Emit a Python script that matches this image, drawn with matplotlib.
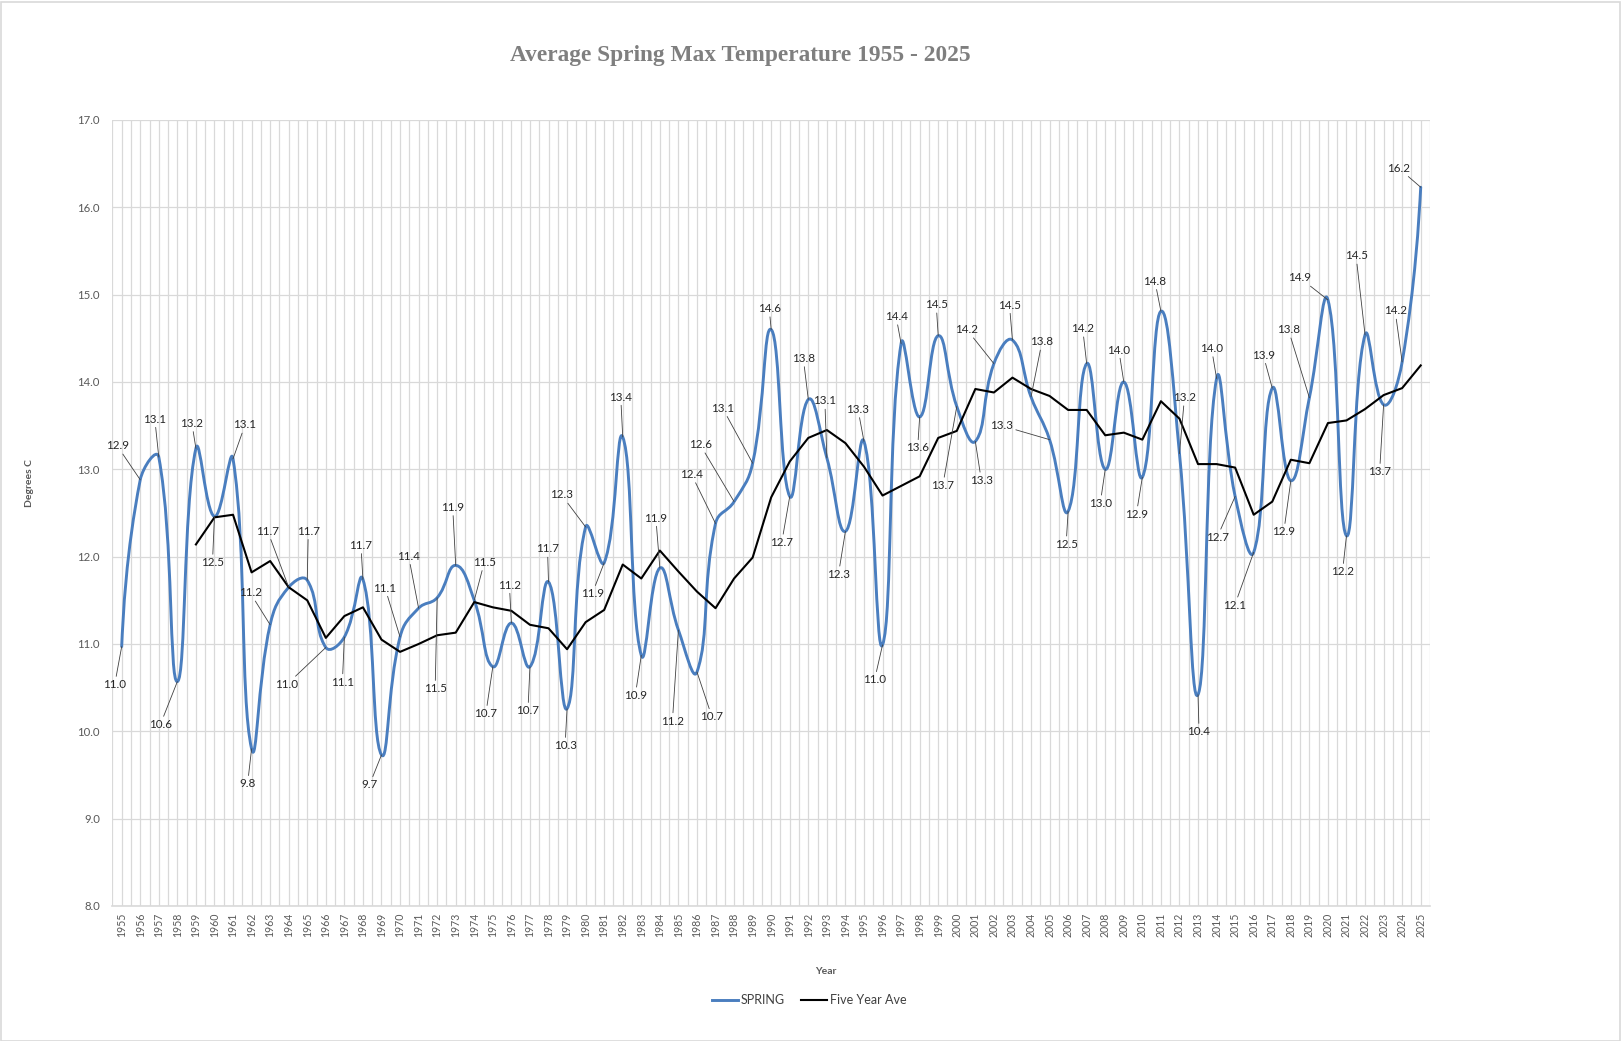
import numpy as np
import matplotlib
matplotlib.use("Agg")
import matplotlib.pyplot as plt
from matplotlib.path import Path
from matplotlib.patches import PathPatch, Rectangle
from matplotlib.lines import Line2D

plt.rcParams['font.family'] = ['Lato', 'DejaVu Sans']

years = list(range(1955, 2026))

spring = [10.97, 12.88, 13.14, 10.57, 13.24, 12.46, 13.12, 9.80, 11.22, 11.65,
          11.73, 10.96, 11.08, 11.74, 9.73, 11.08, 11.41, 11.53, 11.90, 11.50,
          10.74, 11.24, 10.74, 11.71, 10.26, 12.34, 11.93, 13.37, 10.87, 11.87,
          11.16, 10.68, 12.38, 12.63, 13.07, 14.60, 12.69, 13.80, 13.13, 12.29,
          13.32, 10.99, 14.44, 13.60, 14.53, 13.72, 13.32, 14.21, 14.48, 13.83,
          13.34, 12.52, 14.21, 13.00, 14.00, 12.91, 14.81, 13.18, 10.42, 14.04,
          12.69, 12.05, 13.93, 12.87, 13.82, 14.94, 12.24, 14.54, 13.74, 14.23,
          16.23]

# five year average starts in 1959
five_year_start = 1959
five_year = [12.14, 12.45, 12.48, 11.82, 11.95, 11.65, 11.50, 11.07, 11.32, 11.42,
             11.05, 10.91, 11.00, 11.10, 11.13, 11.48, 11.42, 11.38, 11.22, 11.18,
             10.94, 11.25, 11.39, 11.91, 11.75, 12.07, 11.83, 11.60, 11.41, 11.75,
             11.99, 12.68, 13.09, 13.36, 13.45, 13.30, 13.03, 12.70, 12.81, 12.92,
             13.36, 13.44, 13.92, 13.88, 14.05, 13.92, 13.84, 13.68, 13.68, 13.39,
             13.42, 13.34, 13.78, 13.58, 13.06, 13.06, 13.02, 12.48, 12.63, 13.11,
             13.07, 13.53, 13.56, 13.69, 13.85, 13.93, 14.19]

# data label offsets in pixels (dx, dy) from each point
label_offsets = [
    (-7, -38), (-23, 34), (-4, 38), (-17, -43), (-4, 25), (-2, -46), (12, 34),
    (-4, -35), (-20, 32), (-21, 56), (1, 49), (-39, -37), (-2, -45), (-2, 34),
    (-12, -30), (-15, 49), (-10, 52), (-2, -91), (-3, 58), (10, 38), (-7, -47),
    (-2, 38), (-2, -44), (-1, 33), (-2, -37), (-24, 32), (-12, -31), (-2, 40),
    (-6, -40), (-4, 50), (-6, -91), (15, -45), (-24, 49), (-34, 57), (-30, 55),
    (-2, 21), (-8, -46), (-5, 41), (-2, 57), (-7, -43), (-6, 32), (-8, -35),
    (-5, 27), (-2, -31), (-2, 31), (-14, -79), (6, -39), (-27, 34), (-3, 35),
    (11, 55), (-48, 14), (-2, -33), (-4, 35), (-5, -34), (-5, 32), (-6, -37),
    (-6, 30), (5, 56), (1, -37), (-5, 30), (-18, -41), (-19, -53), (-9, 33),
    (-7, -51), (-21, 68), (-28, 22), (-4, -36), (-9, 79), (-4, -67), (-7, 51),
    (-22, 19)]

W, H = 1621, 1041
px_per_year = (1430 - 112.4) / len(years)
px_per_deg = (906 - 120) / 9.0


def smooth_path(xs, ys, tension=0.45):
    # Excel-like smoothed line: bezier handles scaled by neighbouring segment lengths
    pts = np.column_stack([xs, ys]).astype(float)
    scale = np.array([px_per_year, px_per_deg])
    n = len(pts)
    before = pts.copy()
    after = pts.copy()
    for i in range(1, n - 1):
        d0 = np.hypot(*((pts[i] - pts[i - 1]) * scale))
        d1 = np.hypot(*((pts[i + 1] - pts[i]) * scale))
        tang = pts[i + 1] - pts[i - 1]
        before[i] = pts[i] - tension * d0 / (d0 + d1) * tang
        after[i] = pts[i] + tension * d1 / (d0 + d1) * tang
    after[0] = pts[0] + (before[1] - pts[0]) / 3.0
    before[-1] = pts[-1] + (after[-2] - pts[-1]) / 3.0
    verts = [pts[0]]
    codes = [Path.MOVETO]
    for i in range(n - 1):
        verts += [after[i], before[i + 1], pts[i + 1]]
        codes += [Path.CURVE4] * 3
    return Path(verts, codes)


fig = plt.figure(figsize=(W / 100, H / 100), dpi=100)
ax = fig.add_axes([112.4 / W, 1 - 906 / H, (1430 - 112.4) / W, (906 - 120) / H])

x = np.arange(len(years))
x5 = np.arange(five_year_start - years[0], len(years))

blue = '#4a7ebf'
ax.add_patch(PathPatch(smooth_path(x, spring), facecolor='none', edgecolor=blue,
                       lw=2.1, zorder=3, capstyle='round', joinstyle='round'))
ax.plot(x5, five_year, color='black', lw=1.5, zorder=4)

for i, (v, off) in enumerate(zip(spring, label_offsets)):
    ax.annotate(f"{v:.1f}", xy=(x[i], v), xytext=off, textcoords='offset pixels',
                ha='center', va='center', fontsize=8.4, color='#262626', zorder=6,
                arrowprops=dict(arrowstyle='-', color='#404040', lw=0.6,
                                shrinkA=0, shrinkB=0))

ax.set_xlim(-0.5, len(years) - 0.5)
ax.set_ylim(8, 17)
ax.set_yticks(np.arange(8, 17.01, 1.0))
ax.set_yticklabels([f"{t:.1f}" for t in np.arange(8, 17.01, 1.0)])
ax.set_xticks(x)
ax.set_xticklabels([str(y) for y in years], rotation=90)
ax.set_xticks(np.arange(-0.5, len(years), 1.0), minor=True)
ax.tick_params(axis='both', length=0, which='both', colors='#595959')
ax.tick_params(axis='x', labelsize=7.6, pad=5)
ax.tick_params(axis='y', labelsize=8.2, pad=9)
ax.grid(True, which='both', axis='x', color='#d9d9d9', lw=0.9, zorder=0)
ax.grid(True, which='major', axis='y', color='#d9d9d9', lw=0.9, zorder=0)
ax.set_axisbelow(True)
for side in ['top', 'right', 'left']:
    ax.spines[side].set_visible(False)
ax.spines['bottom'].set_color('#d9d9d9')
ax.spines['bottom'].set_linewidth(1.2)

fig.text(740 / W, 1 - 55 / H, "Average Spring Max Temperature 1955 - 2025",
         family='Liberation Serif', fontweight='bold', fontsize=16.8,
         color='#7f7f7f', ha='center', va='center')
fig.text(826 / W, 1 - 971 / H, "Year", fontweight='bold', fontsize=7.5,
         color='#595959', ha='center', va='center')
fig.text(29 / W, 1 - 483 / H, "Degrees C", fontweight='bold', fontsize=7.5,
         color='#595959', ha='center', va='center', rotation=90)

handles = [Line2D([], [], color=blue, lw=2.1), Line2D([], [], color='black', lw=1.5)]
fig.legend(handles, ["SPRING", "Five Year Ave"], loc='center',
           bbox_to_anchor=(809 / W, 1 - 1000 / H), ncol=2, frameon=False,
           fontsize=9, handlelength=2.1, handletextpad=0.2, columnspacing=1.3,
           labelcolor='#404040')

fig.patches.append(Rectangle((0.5 / W, 0.5 / H), (W - 2) / W, (H - 2) / H,
                             transform=fig.transFigure, fill=False,
                             edgecolor='#d9d9d9', lw=1.2))

fig.savefig("out.png", dpi=100)
